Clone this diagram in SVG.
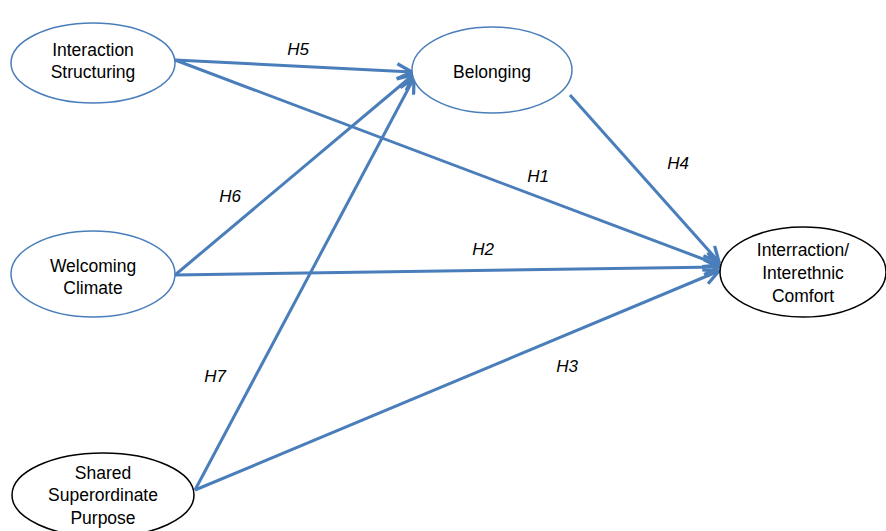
<svg xmlns="http://www.w3.org/2000/svg" width="886" height="531" viewBox="0 0 886 531">
<style>
.n{fill:#fff;stroke-width:1.5}
.b{stroke:#4a7ebb}
.k{stroke:#000}
.t{font-family:"Liberation Sans",Arial,sans-serif;font-size:17.5px;fill:#000;text-anchor:middle}
.h{font-family:"Liberation Sans",Arial,sans-serif;font-size:17px;font-style:italic;fill:#000;text-anchor:middle}
.e{stroke:#4a7ebb;stroke-width:3;fill:none;marker-end:url(#a)}
</style>
<defs>
<marker id="a" viewBox="0 0 12 12" refX="11" refY="6" markerWidth="6" markerHeight="6" orient="auto" markerUnits="strokeWidth">
<polyline points="1,1 11,6 1,11" fill="none" stroke="#4a7ebb" stroke-width="2.2" stroke-linejoin="miter"/>
</marker>
</defs>
<rect width="886" height="531" fill="#fff"/>
<g id="connectors">
<line class="e" x1="175" y1="60" x2="412" y2="72"/>
<line class="e" x1="175" y1="60" x2="719" y2="265"/>
<line class="e" x1="175" y1="275" x2="413" y2="75"/>
<line class="e" x1="175" y1="275" x2="719" y2="267"/>
<line class="e" x1="195" y1="490" x2="414" y2="78"/>
<line class="e" x1="195" y1="490" x2="719" y2="271"/>
<line class="e" x1="570" y1="95" x2="719" y2="262"/>
<text class="h" x="298" y="55">H5</text>
<text class="h" x="538" y="182">H1</text>
<text class="h" x="678" y="169">H4</text>
<text class="h" x="230" y="202">H6</text>
<text class="h" x="483" y="255">H2</text>
<text class="h" x="215" y="382">H7</text>
<text class="h" x="567" y="372">H3</text>
</g>
<g id="interaction-structuring">
<ellipse class="n b" cx="93" cy="63" rx="82" ry="40"/>
<text class="t" x="93" y="56">Interaction</text>
<text class="t" x="93" y="78">Structuring</text>
</g>
<g id="belonging">
<ellipse class="n b" cx="492" cy="70" rx="80" ry="43"/>
<text class="t" x="492" y="78">Belonging</text>
</g>
<g id="welcoming-climate">
<ellipse class="n b" cx="93" cy="274" rx="82" ry="43"/>
<text class="t" x="93" y="272">Welcoming</text>
<text class="t" x="93" y="294">Climate</text>
</g>
<g id="interethnic-comfort">
<ellipse class="n k" cx="803" cy="272" rx="83" ry="45"/>
<text class="t" x="803" y="256">Interraction/</text>
<text class="t" x="803" y="279">Interethnic</text>
<text class="t" x="803" y="302">Comfort</text>
</g>
<g id="shared-superordinate-purpose">
<ellipse class="n k" cx="103" cy="495" rx="91" ry="42"/>
<text class="t" x="103" y="479">Shared</text>
<text class="t" x="103" y="501">Superordinate</text>
<text class="t" x="103" y="524">Purpose</text>
</g>
</svg>
